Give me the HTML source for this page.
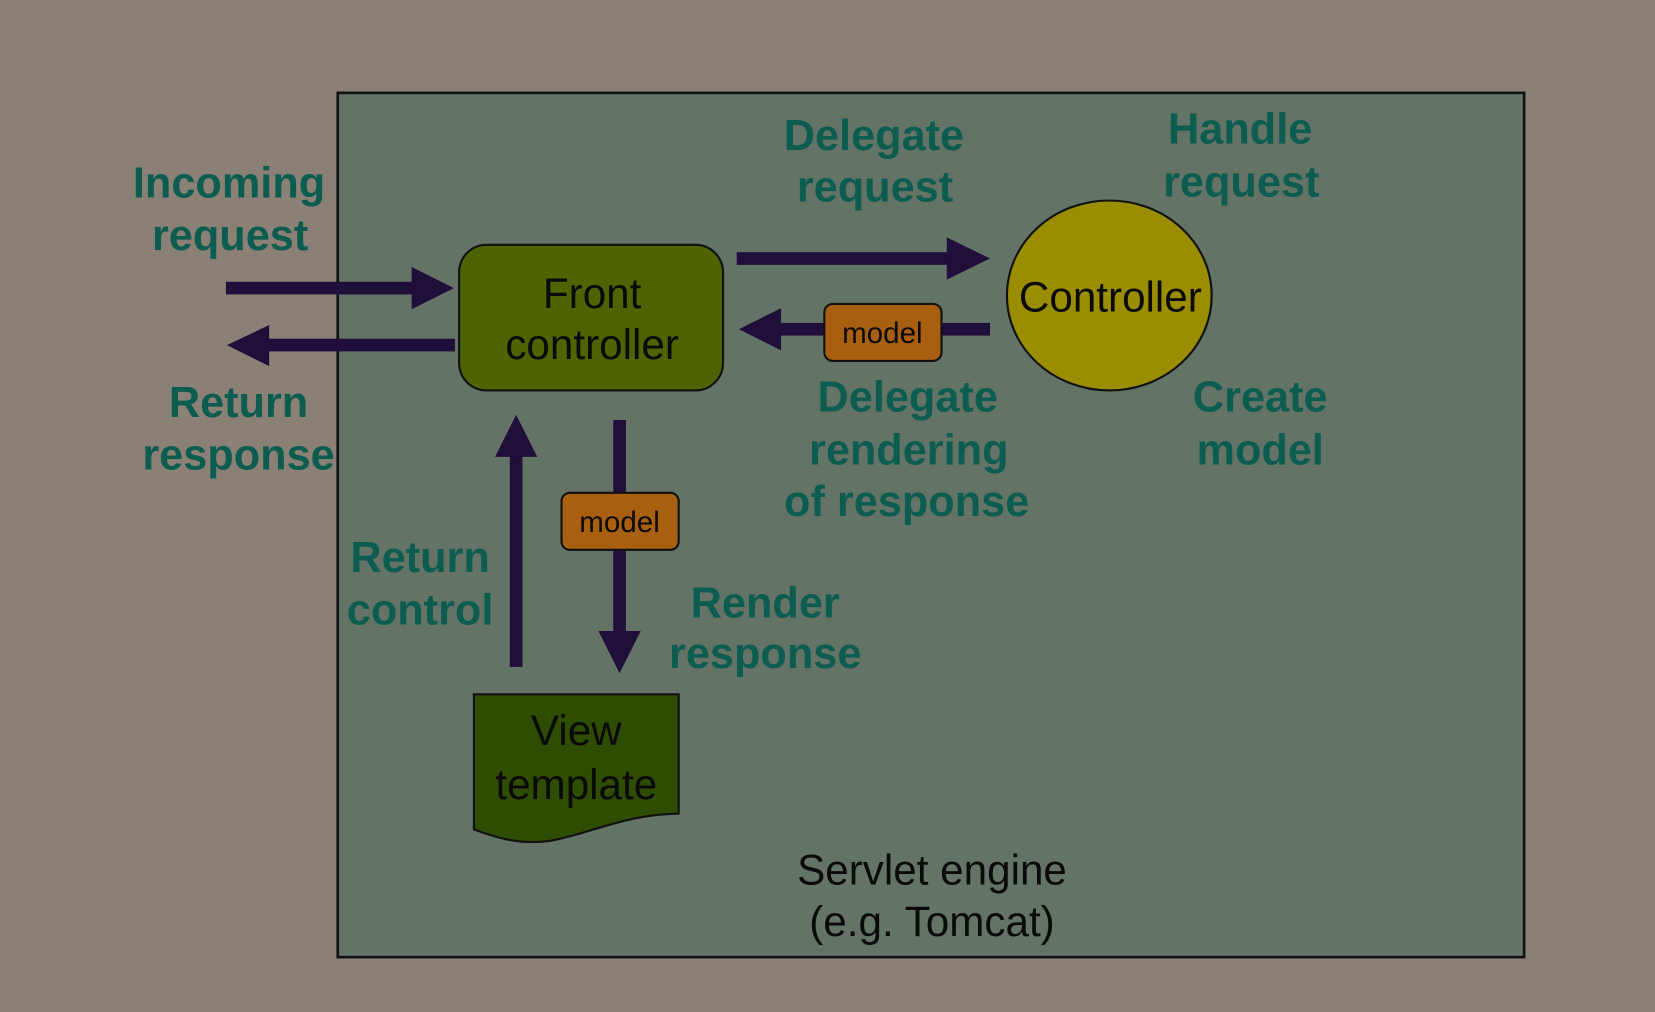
<!DOCTYPE html>
<html><head><meta charset="utf-8"><style>
html,body{margin:0;padding:0;background:#8b8075;}
svg{display:block}
.b{font-family:"Liberation Sans",sans-serif;font-weight:bold;font-size:41px;fill:#0d5c50;text-anchor:middle}
.r{font-family:"Liberation Sans",sans-serif;font-size:40px;fill:#0a0a0a;text-anchor:middle}
.m{font-family:"Liberation Sans",sans-serif;font-size:28px;fill:#0a0a0a;text-anchor:middle}
</style></head><body>
<svg width="1655" height="1012" viewBox="0 0 1568 959" preserveAspectRatio="none">
<rect x="0" y="0" width="1568" height="959" fill="#8b8075"/>
<rect x="320" y="88" width="1124" height="819" fill="#637366" stroke="#111" stroke-width="2.5"/>
<g fill="#1f0f3a">
<!-- incoming -->
<rect x="214" y="267" width="180" height="12"/><polygon points="390,253 430,273 390,293"/>
<!-- return response -->
<rect x="253" y="321" width="178" height="12"/><polygon points="255,308 215,327 255,347"/>
<!-- delegate -->
<rect x="698" y="239" width="202" height="12"/><polygon points="897,225 938,245 897,265"/>
<!-- model back -->
<rect x="738" y="306" width="200" height="12"/><polygon points="740,292 700,312 740,332"/>
<!-- up -->
<rect x="483" y="430" width="12" height="202"/><polygon points="469,433 489,393 509,433"/>
<!-- down -->
<rect x="581" y="398" width="12" height="202"/><polygon points="567,598 587,638 607,598"/>
</g>
<rect x="435" y="232" width="250" height="138" rx="26" fill="#4d6400" stroke="#111" stroke-width="2"/>
<text class="r" x="561" y="292">Front</text>
<text class="r" x="561" y="340">controller</text>
<ellipse cx="1051" cy="280" rx="97" ry="90" fill="#9a8d00" stroke="#111" stroke-width="2"/>
<text class="r" x="1052" y="295">Controller</text>
<rect x="781" y="288" width="111" height="54" rx="8" fill="#a85f10" stroke="#111" stroke-width="2"/>
<text class="m" x="836" y="325">model</text>
<rect x="532" y="467" width="111" height="54" rx="8" fill="#a85f10" stroke="#111" stroke-width="2"/>
<text class="m" x="587" y="504">model</text>
<path d="M449,658 L643,658 L643,771 C590,772 560,790 520,797 C490,801 465,792 449,786 Z" fill="#2f4d00" stroke="#111" stroke-width="2"/>
<text class="r" x="546" y="706">View</text>
<text class="r" x="546" y="757">template</text>
<text class="b" x="217" y="187">Incoming</text>
<text class="b" x="218" y="237">request</text>
<text class="b" x="226" y="395">Return</text>
<text class="b" x="226" y="445">response</text>
<text class="b" x="828" y="142">Delegate</text>
<text class="b" x="829" y="191">request</text>
<text class="b" x="1175" y="136">Handle</text>
<text class="b" x="1176" y="186">request</text>
<text class="b" x="860" y="390">Delegate</text>
<text class="b" x="861" y="440">rendering</text>
<text class="b" x="859" y="489">of response</text>
<text class="b" x="1194" y="390">Create</text>
<text class="b" x="1194" y="440">model</text>
<text class="b" x="398" y="542">Return</text>
<text class="b" x="398" y="592">control</text>
<text class="b" x="725" y="585">Render</text>
<text class="b" x="725" y="633">response</text>
<text class="r" x="883" y="838">Servlet engine</text>
<text class="r" x="883" y="887">(e.g. Tomcat)</text>
</svg>
</body></html>
